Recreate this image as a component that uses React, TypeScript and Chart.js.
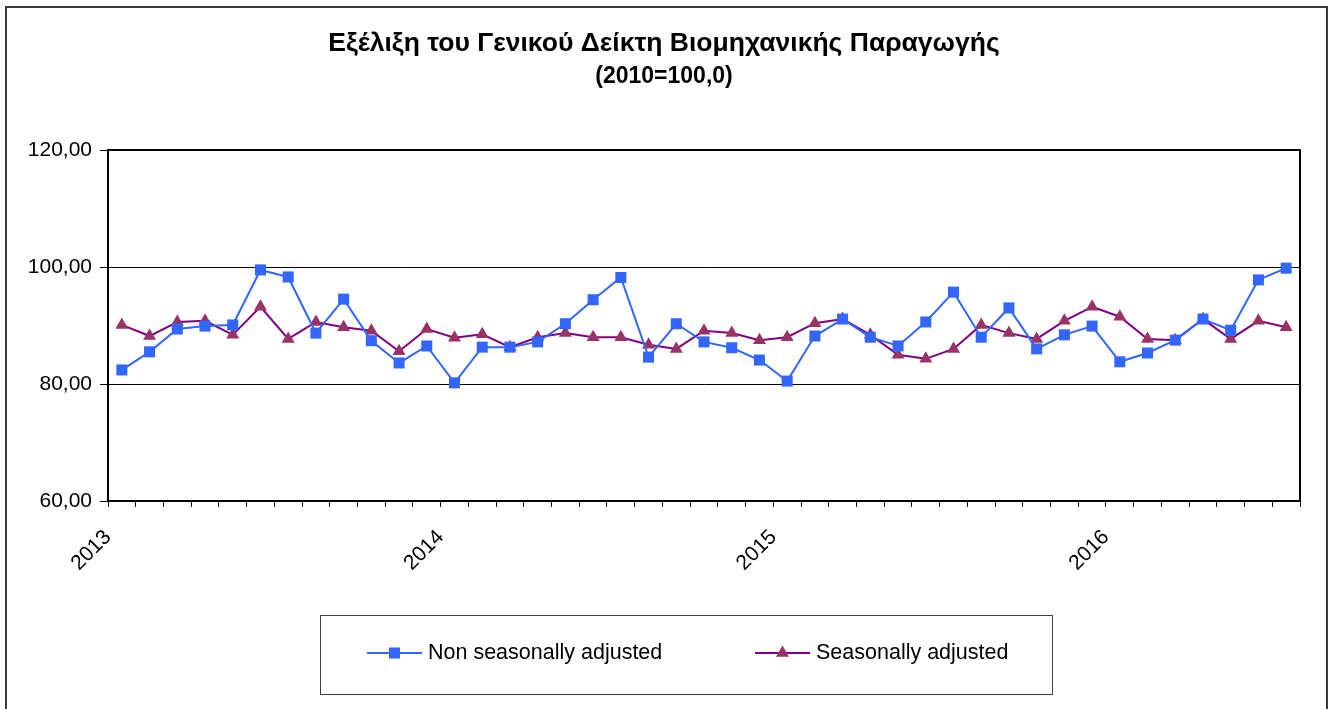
import React, { useEffect, useRef } from "react";
import { Chart, registerables } from "chart.js";

Chart.register(...registerables);

// ---- data ----
const titleText = "Εξέλιξη του Γενικού Δείκτη Βιομηχανικής Παραγωγής";
const subtitleText = "(2010=100,0)";
const yearLabels = ["2013", "2014", "2015", "2016"];
const monthsPerYear = 12;
const seriesNames = ["Non seasonally adjusted", "Seasonally adjusted"];

// Jan 2013 .. Jul 2016 (43 months)
const nonSeasonallyAdjusted = [
  82.4, 85.5, 89.4, 89.9, 90.1, 99.5, 98.3, 88.7, 94.5, 87.4, 83.6, 86.5,
  80.2, 86.3, 86.3, 87.2, 90.3, 94.4, 98.2, 84.6, 90.3, 87.2, 86.2, 84.1,
  80.5, 88.2, 91.1, 88.0, 86.5, 90.6, 95.7, 88.0, 93.0, 86.0, 88.4, 89.9,
  83.8, 85.3, 87.5, 91.1, 89.2, 97.8, 99.8,
];
const seasonallyAdjusted = [
  90.1, 88.2, 90.6, 90.8, 88.4, 93.2, 87.7, 90.6, 89.7, 89.1, 85.6, 89.4,
  87.9, 88.5, 86.3, 88.0, 88.7, 88.0, 88.0, 86.7, 86.0, 89.1, 88.7, 87.5,
  88.0, 90.4, 91.1, 88.4, 85.0, 84.3, 86.0, 90.1, 88.7, 87.7, 90.8, 93.2,
  91.5, 87.7, 87.5, 91.1, 87.7, 90.8, 89.7,
];
const yMin = 60;
const yMax = 120;
const yStep = 20;

// ---- styles ----
const FONT = "'Liberation Sans', Arial, sans-serif";
const BLUE = "#3366FF";
const PURPLE_LINE = "#800080";
const PURPLE_MARK = "#993366";

const legendBox = { x: 320, y: 615, w: 732, h: 79 };
const legendItemsX = [367, 755];
const legendItemY = 653;

function drawMarker(ctx: CanvasRenderingContext2D, style: string, x: number, y: number, r: number, color: string) {
  ctx.save();
  ctx.fillStyle = color;
  ctx.beginPath();
  if (style === "rect") {
    const s = Math.SQRT1_2 * r;
    ctx.rect(x - s, y - s, 2 * s, 2 * s);
  } else {
    const a = (2 * Math.PI) / 3;
    ctx.moveTo(x, y - r);
    ctx.lineTo(x + Math.sin(a) * r, y - Math.cos(a) * r);
    ctx.lineTo(x + Math.sin(2 * a) * r, y - Math.cos(2 * a) * r);
    ctx.closePath();
  }
  ctx.fill();
  ctx.restore();
}

const framePlugin = {
  id: "frame",
  beforeDatasetsDraw(chart: any) {
    const { ctx, chartArea: a } = chart;
    ctx.save();
    ctx.strokeStyle = "#000";
    ctx.lineWidth = 2;
    ctx.strokeRect(a.left, a.top, a.right - a.left, a.bottom - a.top);
    ctx.restore();
  },
  afterDraw(chart: any) {
    const { ctx } = chart;
    ctx.save();
    // outer frame
    ctx.strokeStyle = "#3a3a3a";
    ctx.lineWidth = 2;
    ctx.strokeRect(6, 7, chart.width - 7, chart.height - 6);
    // legend box
    ctx.strokeStyle = "#404040";
    ctx.lineWidth = 1;
    ctx.strokeRect(legendBox.x + 0.5, legendBox.y + 0.5, legendBox.w, legendBox.h);
    // legend items
    chart.data.datasets.forEach((ds: any, i: number) => {
      const x0 = legendItemsX[i];
      ctx.strokeStyle = ds.borderColor;
      ctx.lineWidth = 2;
      ctx.beginPath();
      ctx.moveTo(x0, legendItemY);
      ctx.lineTo(x0 + 55, legendItemY);
      ctx.stroke();
      drawMarker(ctx, ds.pointStyle, x0 + 27.5, legendItemY, ds.pointRadius, ds.pointBackgroundColor);
      ctx.fillStyle = "#000";
      ctx.font = `21.5px ${FONT}`;
      ctx.textBaseline = "middle";
      ctx.textAlign = "left";
      ctx.fillText(ds.label, x0 + 61, legendItemY);
    });
    ctx.restore();
  },
};

export default function App() {
  const ref = useRef<HTMLCanvasElement | null>(null);

  useEffect(() => {
    if (!ref.current) return;
    const n = nonSeasonallyAdjusted.length;
    const chart = new Chart(ref.current, {
      type: "line",
      data: {
        datasets: [
          {
            label: seriesNames[0],
            data: nonSeasonallyAdjusted.map((v, i) => ({ x: i + 0.5, y: v })),
            borderColor: BLUE,
            backgroundColor: BLUE,
            borderWidth: 2,
            pointStyle: "rect",
            pointRadius: 7.8,
            pointBorderWidth: 0,
            pointBackgroundColor: BLUE,
            pointBorderColor: BLUE,
            tension: 0,
          },
          {
            label: seriesNames[1],
            data: seasonallyAdjusted.map((v, i) => ({ x: i + 0.5, y: v })),
            borderColor: PURPLE_LINE,
            backgroundColor: PURPLE_MARK,
            borderWidth: 2,
            pointStyle: "triangle",
            pointRadius: 7.5,
            pointBorderWidth: 0,
            pointBackgroundColor: PURPLE_MARK,
            pointBorderColor: PURPLE_MARK,
            tension: 0,
          },
        ],
      },
      options: {
        responsive: false,
        animation: false,
        devicePixelRatio: 1,
        layout: { padding: { left: 0, right: 0, top: 0, bottom: 123 } },
        plugins: {
          legend: { display: false },
          tooltip: { enabled: false },
          title: {
            display: true,
            text: titleText,
            color: "#000",
            font: { family: FONT, size: 26.5, weight: "bold", lineHeight: 32 / 26.5 },
            padding: { top: 28, bottom: 1 },
          },
          subtitle: {
            display: true,
            text: subtitleText,
            color: "#000",
            font: { family: FONT, size: 23, weight: "bold", lineHeight: 32 / 23 },
            padding: { top: 0, bottom: 57 },
          },
        },
        scales: {
          x: {
            type: "linear",
            min: 0,
            max: n,
            afterBuildTicks: (scale: any) => {
              scale.ticks = Array.from({ length: n + 1 }, (_, i) => ({ value: i }));
            },
            afterFit: (scale: any) => {
              scale.height = 85;
              scale.paddingLeft = 0;
              scale.paddingRight = 0;
            },
            ticks: {
              autoSkip: false,
              minRotation: 45,
              maxRotation: 45,
              padding: 18,
              color: "#000",
              font: { family: FONT, size: 21 },
              callback: (v: any) =>
                Number(v) % monthsPerYear === 0 && yearLabels[Number(v) / monthsPerYear]
                  ? yearLabels[Number(v) / monthsPerYear]
                  : "",
            },
            grid: {
              display: true,
              drawOnChartArea: false,
              drawTicks: true,
              tickLength: 6,
              color: "#000",
              lineWidth: 1,
            },
            border: { display: true, color: "#000", width: 2 },
          },
          y: {
            type: "linear",
            min: yMin,
            max: yMax,
            afterFit: (scale: any) => {
              scale.width = 108;
            },
            ticks: {
              stepSize: yStep,
              padding: 8,
              color: "#000",
              font: { family: FONT, size: 21 },
              callback: (v: any) => Number(v).toFixed(2).replace(".", ","),
            },
            grid: {
              color: "#000",
              lineWidth: 1,
              tickLength: 8,
            },
            border: { display: true, color: "#000", width: 2 },
          },
          yRightSpace: {
            type: "linear",
            position: "right",
            min: yMin,
            max: yMax,
            display: true,
            afterFit: (scale: any) => {
              scale.width = 28;
            },
            ticks: { display: false },
            grid: { display: false, drawTicks: false },
            border: { display: false },
          },
        },
      },
      plugins: [framePlugin],
    });
    return () => chart.destroy();
  }, []);

  return (
    <div style={{ position: "absolute", left: 0, top: 0, width: 1328, height: 709, background: "#fff" }}>
      <canvas ref={ref} width={1328} height={709} style={{ display: "block", width: 1328, height: 709 }} />
    </div>
  );
}
